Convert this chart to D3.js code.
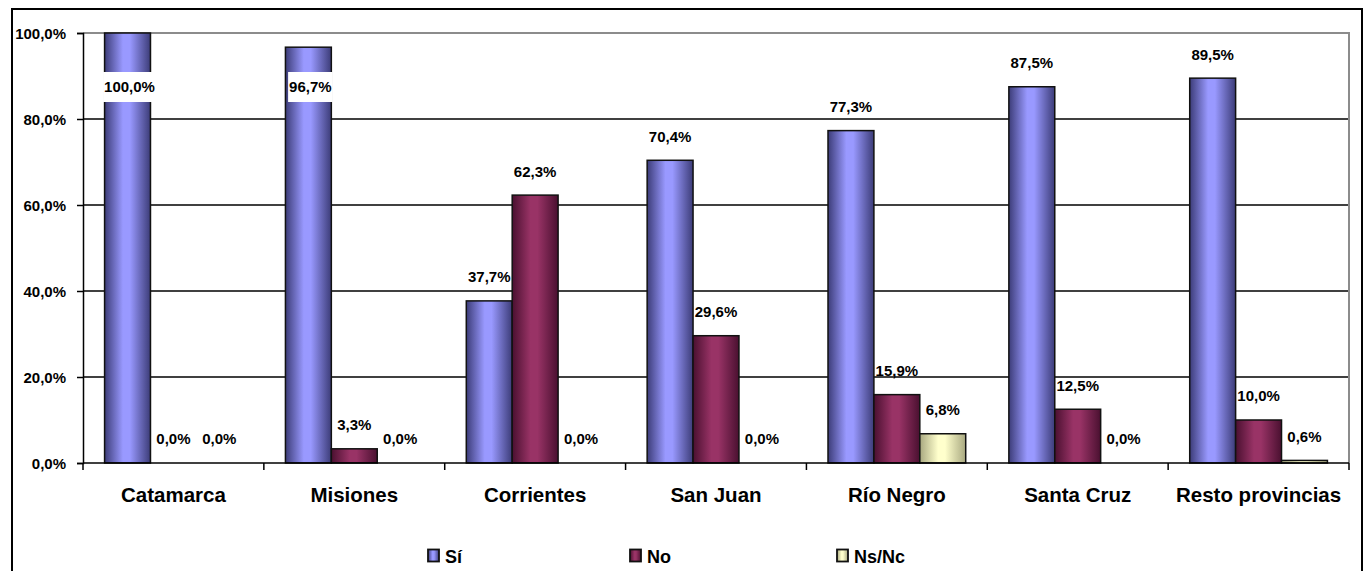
<!DOCTYPE html>
<html>
<head>
<meta charset="utf-8">
<script src="https://cdn.jsdelivr.net/npm/d3@7"></script>
<style>
  html, body { margin: 0; padding: 0; background: #fff; }
  svg { display: block; font-family: "Liberation Sans", Arial, sans-serif; font-weight: bold; }
</style>
</head>
<body>
<svg id="chart" width="1364" height="571"></svg>
<script>
// Provinces and response shares (%)
const categories = ["Catamarca", "Misiones", "Corrientes", "San Juan", "Río Negro", "Santa Cruz", "Resto provincias"];
const seriesNames = ["Sí", "No", "Ns/Nc"];
const si   = [100.0, 96.7, 37.7, 70.4, 77.3, 87.5, 89.5];
const no   = [0.0, 3.3, 62.3, 29.6, 15.9, 12.5, 10.0];
const nsnc = [0.0, 0.0, 0.0, 0.0, 6.8, 0.0, 0.6];
const yTicks = [0, 20, 40, 60, 80, 100];

const seriesValues = [si, no, nsnc];
const colors = ["#9999FF", "#993366", "#FFFFCC"];
const darkEdges = ["#3c3c78", "#4a1030", "#a8a880"];

const fmt = v => d3.format(".1f")(v).replace(".", ",") + "%";

const svg = d3.select("#chart");
const plot = { left: 83, top: 33, right: 1349, bottom: 463 };

// Outer chart frame
svg.append("rect")
  .attr("x", 12).attr("y", 9)
  .attr("width", 1350).attr("height", 575)
  .attr("fill", "#fff").attr("stroke", "#000").attr("stroke-width", 2);

// Horizontal gradients giving the bars a cylindrical shading
const defs = svg.append("defs");
colors.forEach((c, i) => {
  const g = defs.append("linearGradient").attr("id", "grad" + i)
    .attr("x1", "0%").attr("x2", "100%").attr("y1", "0%").attr("y2", "0%");
  g.append("stop").attr("offset", "0%").attr("stop-color", darkEdges[i]);
  g.append("stop").attr("offset", "40%").attr("stop-color", c);
  g.append("stop").attr("offset", "55%").attr("stop-color", c);
  g.append("stop").attr("offset", "100%").attr("stop-color", darkEdges[i]);
});

const x0 = d3.scaleBand().domain(categories).range([plot.left, plot.right]).paddingInner(0).paddingOuter(0);
const x1 = d3.scaleBand().domain(seriesNames).range([0, x0.bandwidth()]).paddingInner(0).paddingOuter(0.47);
const y = d3.scaleLinear().domain([0, 100]).range([plot.bottom, plot.top]);

// Gridlines
svg.append("g").selectAll("line")
  .data(yTicks.filter(t => t > 0 && t < 100))
  .join("line")
  .attr("x1", plot.left).attr("x2", plot.right)
  .attr("y1", d => y(d)).attr("y2", d => y(d))
  .attr("stroke", "#000").attr("stroke-width", 1.3);

// Plot area border (top and right) in grey
svg.append("path")
  .attr("d", `M${plot.left},${y(100)}H${plot.right}V${plot.bottom}`)
  .attr("fill", "none").attr("stroke", "#8c8c8c").attr("stroke-width", 2);

// Bars
const groups = svg.append("g").selectAll("g")
  .data(categories)
  .join("g")
  .attr("transform", d => `translate(${x0(d)},0)`);

groups.each(function(cat, ci) {
  const g = d3.select(this);
  seriesNames.forEach((s, k) => {
    const v = seriesValues[k][ci];
    if (v <= 0) return;
    g.append("rect")
      .attr("x", x1(s))
      .attr("y", y(v))
      .attr("width", x1.bandwidth())
      .attr("height", y(0) - y(v))
      .attr("fill", `url(#grad${k})`)
      .attr("stroke", "#111")
      .attr("stroke-width", 1.5);
  });
});

// Y axis
const yAxis = d3.axisLeft(y).tickValues(yTicks).tickSize(6).tickFormat(fmt);
const ya = svg.append("g").attr("transform", `translate(${plot.left},0)`).call(yAxis);
ya.select(".domain").attr("stroke", "#000").attr("stroke-width", 1.5);
ya.selectAll(".tick line").attr("stroke", "#000").attr("stroke-width", 1.5);
ya.selectAll(".tick text")
  .attr("x", -17).attr("dy", "0.35em")
  .attr("font-size", 15).attr("font-weight", "bold").attr("font-family", "Liberation Sans, Arial, sans-serif")
  .attr("fill", "#000");

// X axis baseline and category ticks
svg.append("line")
  .attr("x1", plot.left).attr("x2", plot.right)
  .attr("y1", plot.bottom).attr("y2", plot.bottom)
  .attr("stroke", "#000").attr("stroke-width", 1.5);
svg.append("g").selectAll("line")
  .data(categories.concat(["__end"]))
  .join("line")
  .attr("x1", (d, i) => i < categories.length ? x0(d) : plot.right)
  .attr("x2", (d, i) => i < categories.length ? x0(d) : plot.right)
  .attr("y1", plot.bottom).attr("y2", plot.bottom + 7)
  .attr("stroke", "#000").attr("stroke-width", 1.5);

// Category labels
svg.append("g").selectAll("text")
  .data(categories)
  .join("text")
  .attr("x", d => x0(d) + x0.bandwidth() / 2)
  .attr("y", 502)
  .attr("text-anchor", "middle")
  .attr("font-size", 20.5)
  .attr("fill", "#000")
  .text(d => d);

// Value labels: above the bar, or boxed inside it when there is no room above
const labels = svg.append("g");
categories.forEach((cat, ci) => {
  seriesNames.forEach((s, k) => {
    const v = seriesValues[k][ci];
    const cx = x0(cat) + x1(s) + x1.bandwidth() / 2;
    let cy = y(v) - 24;
    const inside = cy < plot.top + 10;
    if (inside) cy = plot.top + 54;
    const t = labels.append("text")
      .attr("x", cx + (inside ? 2 : 0))
      .attr("y", cy)
      .attr("dy", "0.36em")
      .attr("text-anchor", "middle")
      .attr("font-size", 15)
      .attr("fill", "#000")
      .text(fmt(v));
    if (inside) {
      const bb = t.node().getBBox();
      labels.insert("rect", () => t.node())
        .attr("x", bb.x - 1).attr("y", cy - 15)
        .attr("width", bb.width + 2).attr("height", 30)
        .attr("fill", "#fff");
    }
  });
});

// Legend
const legendX = [428, 630, 837];
const legend = svg.append("g");
seriesNames.forEach((s, i) => {
  legend.append("rect")
    .attr("x", legendX[i]).attr("y", 549.5)
    .attr("width", 11).attr("height", 12)
    .attr("fill", `url(#grad${i})`)
    .attr("stroke", "#111").attr("stroke-width", 1.8);
  legend.append("text")
    .attr("x", legendX[i] + 17).attr("y", 563)
    .attr("font-size", 18)
    .attr("fill", "#000")
    .text(s);
});
</script>
</body>
</html>
